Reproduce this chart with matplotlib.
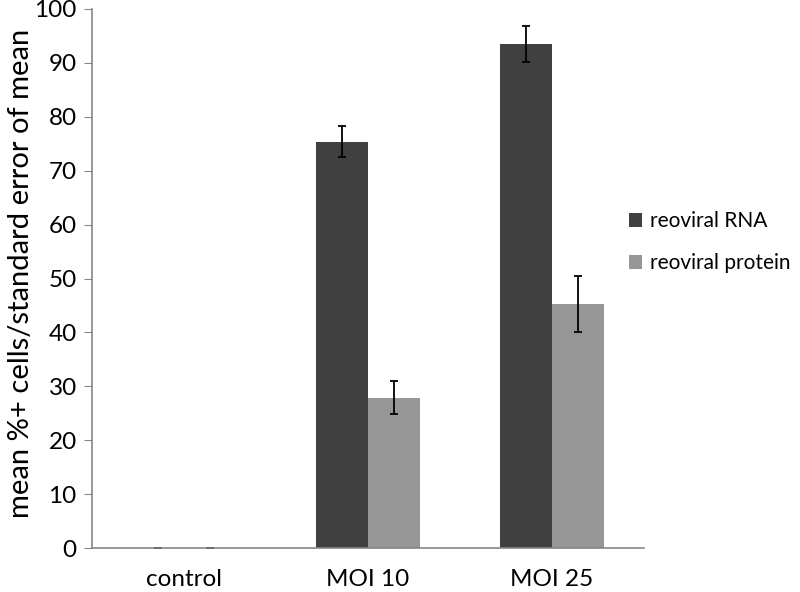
import matplotlib.pyplot as plt
import numpy as np

plt.rcParams['font.family'] = ['Lato', 'DejaVu Sans']

categories = ['control', 'MOI 10', 'MOI 25']
rna = [0, 75.4, 93.5]
rna_err = [0, 2.9, 3.3]
protein = [0, 27.9, 45.2]
protein_err = [0, 3.1, 5.2]

fig = plt.figure(figsize=(8, 5.92), dpi=100)
ax = fig.add_axes([0.115, 0.0743, 0.69, 0.9105])

x = np.arange(len(categories))
w = 0.283
err_kw = dict(ecolor='black', elinewidth=1.3, capsize=3, capthick=1.3)
ax.bar(x - w / 2, rna, w, yerr=rna_err, color='#404040', label='reoviral RNA', error_kw=err_kw)
ax.bar(x + w / 2, protein, w, yerr=protein_err, color='#969696', label='reoviral protein', error_kw=err_kw)

ax.set_xlim(-0.5, 2.5)
ax.set_ylim(0, 100)
ax.set_yticks(range(0, 101, 10))
ax.set_xticks(x)
ax.set_xticklabels(categories)

for s in ['top', 'right']:
    ax.spines[s].set_visible(False)
for s in ['left', 'bottom']:
    ax.spines[s].set_color('#868686')
    ax.spines[s].set_linewidth(1.2)
ax.tick_params(axis='y', length=6, color='#868686', labelsize=17.5, pad=5)
ax.tick_params(axis='x', length=0, labelsize=17.5, pad=15)

ax.set_ylabel('mean %+ cells/standard error of mean', fontsize=21)
ax.yaxis.set_label_coords(-0.105, 0.51)

fig.legend(loc='center left', bbox_to_anchor=(0.786, 0.591), frameon=False,
           borderpad=0, borderaxespad=0,
           fontsize=15, handlelength=0.65, handleheight=0.65, handletextpad=0.38,
           labelspacing=1.05)

fig.savefig('out.png', dpi=100)
